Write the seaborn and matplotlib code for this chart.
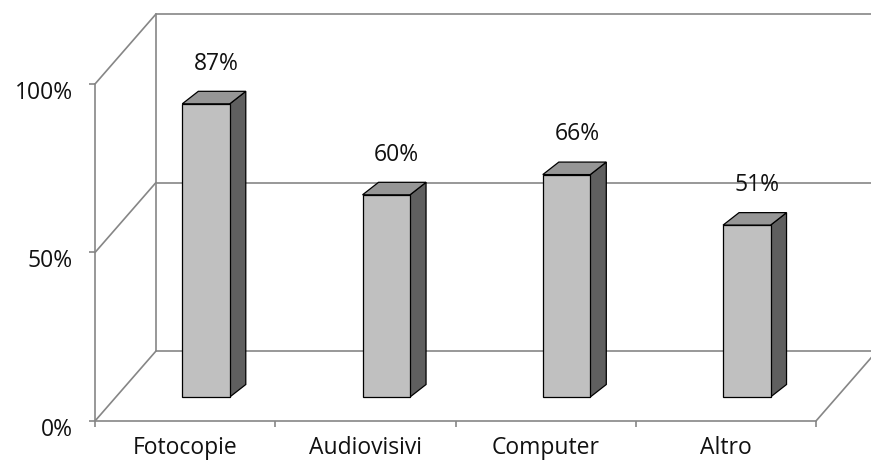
import matplotlib
matplotlib.use("Agg")
import matplotlib.pyplot as plt
from matplotlib.patches import Polygon
from matplotlib.transforms import ScaledTranslation
import seaborn as sns
import pandas as pd

# Data
categories = ["Fotocopie", "Audiovisivi", "Computer", "Altro"]
values = [87, 60, 66, 51]
ytick_values = [0, 50, 100]
ytick_labels = ["0%", "50%", "100%"]

sns.set_theme(style="white")
plt.rcParams["font.family"] = ["Open Sans", "DejaVu Sans"]

FONT_SIZE = 16.5
TEXT = "#111111"
GRID = "#868686"
FRONT = "#c0c0c0"
TOP = "#969696"
SIDE = "#5f5f5f"

# Oblique projection offsets (data units): wall depth, bar plane, bar depth
WALL_DX, WALL_DY = 0.3384, 20.77
BAR_DX, BAR_DY = 0.116, 7.12
DEPTH_DX, DEPTH_DY = 0.0888, 3.71

fig = plt.figure(figsize=(8.71, 4.61), dpi=100)
ax = fig.add_axes([95 / 871, 40 / 461, 721 / 871, 337 / 461])

df = pd.DataFrame({"categoria": categories, "valore": values})
sns.barplot(data=df, x="categoria", y="valore", width=0.2635, color=FRONT,
            saturation=1, edgecolor="black", linewidth=0.9, ax=ax, zorder=5)

ax.set_xlim(-0.5, 3.5)
ax.set_ylim(0, 100)
ax.set_xlabel("")
ax.set_ylabel("")

# Walls and floor of the 3D box
lw = 1.2
kw = dict(color=GRID, lw=lw, clip_on=False, zorder=1)
x_left, x_right = -0.5, 3.5
ax.plot([x_left + WALL_DX] * 2, [WALL_DY, 100 + WALL_DY], **kw)
ax.plot([x_right + WALL_DX] * 2, [WALL_DY, 100 + WALL_DY], **kw)
for v in ytick_values:
    ax.plot([x_left + WALL_DX, x_right + WALL_DX], [v + WALL_DY] * 2, **kw)
    ax.plot([x_left, x_left + WALL_DX], [v, v + WALL_DY], **kw)
ax.plot([x_right, x_right + WALL_DX], [0, WALL_DY], **kw)

# Give each bar its top and side faces
for patch, val in zip(ax.patches, values):
    patch.set_x(patch.get_x() + BAR_DX)
    patch.set_y(patch.get_y() + BAR_DY)
    x0, y0 = patch.get_x(), patch.get_y()
    w, h = patch.get_width(), patch.get_height()
    top = Polygon([(x0, y0 + h), (x0 + w, y0 + h),
                   (x0 + w + DEPTH_DX, y0 + h + DEPTH_DY), (x0 + DEPTH_DX, y0 + h + DEPTH_DY)],
                  closed=True, facecolor=TOP, edgecolor="black", lw=0.9, zorder=4,
                  clip_on=False)
    side = Polygon([(x0 + w, y0), (x0 + w, y0 + h),
                    (x0 + w + DEPTH_DX, y0 + h + DEPTH_DY), (x0 + w + DEPTH_DX, y0 + DEPTH_DY)],
                   closed=True, facecolor=SIDE, edgecolor="black", lw=0.9, zorder=4,
                   clip_on=False)
    ax.add_patch(side)
    ax.add_patch(top)
    ax.text(x0 + w / 2 + 0.058, y0 + h + 11.9, f"{val}%", ha="center", va="center",
            fontsize=FONT_SIZE, color=TEXT, clip_on=False, zorder=6)

# Axes: front-left vertical and front floor
for s in ["top", "right"]:
    ax.spines[s].set_visible(False)
for s in ["left", "bottom"]:
    ax.spines[s].set_color(GRID)
    ax.spines[s].set_linewidth(lw)
    ax.spines[s].set_zorder(1)

ax.set_yticks(ytick_values)
ax.set_yticklabels(ytick_labels)
ax.set_xticks(range(len(categories)))
ax.set_xticklabels(categories)
ax.set_xticks([i - 0.5 for i in range(len(categories) + 1)], minor=True)
ax.tick_params(axis="y", which="major", left=True, length=4, width=lw, color=GRID,
               pad=12, labelsize=FONT_SIZE, labelcolor=TEXT)
ax.tick_params(axis="x", which="major", bottom=False, length=0, pad=11,
               labelsize=FONT_SIZE, labelcolor=TEXT)
ax.tick_params(axis="x", which="minor", bottom=True, length=4, width=lw, color=GRID)

for lab in ax.get_yticklabels():
    lab.set_transform(lab.get_transform() + ScaledTranslation(0, -4 / 72, fig.dpi_scale_trans))

fig.savefig("out.png", dpi=100)
